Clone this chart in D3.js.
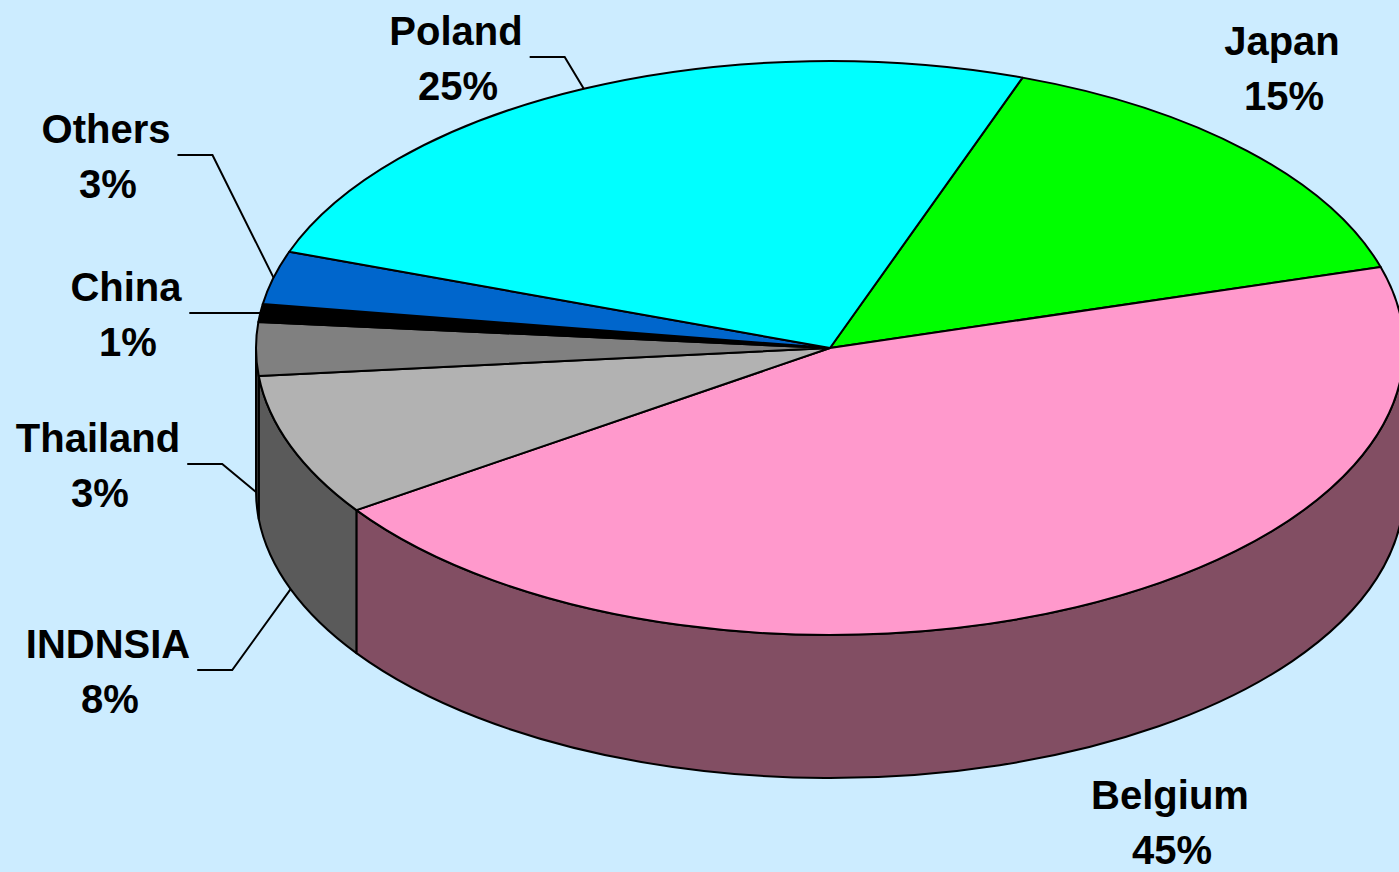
<!DOCTYPE html>
<html>
<head>
<meta charset="utf-8">
<script src="https://cdn.jsdelivr.net/npm/d3@7"></script>
<style>
  html, body { margin: 0; padding: 0; background: #CCECFF; overflow: hidden; }
  svg { display: block; }
  .lbl { font-family: "Liberation Sans", Arial, sans-serif; font-weight: bold; font-size: 40px; fill: #000; }
</style>
</head>
<body>
<svg id="chart" width="1399" height="872"></svg>
<script>
// DATA (clockwise from the first slice)
var countries = ["Japan", "Belgium", "INDNSIA", "Thailand", "China", "Others", "Poland"];
var shares = [15, 45, 8, 3, 1, 3, 25];
var topColors = ["#00FF00", "#FF99CC", "#B2B2B2", "#808080", "#000000", "#0066CC", "#00FFFF"];
var sideColors = ["#009900", "#824E63", "#5A5A5A", "#404040", "#000000", "#003D7A", "#009999"];

// label placement (center of the two-line label block)
var labelPos = {
  "Japan":    {x: 1282, y: 67,  leader: false},
  "Belgium":  {x: 1170, y: 821, leader: false},
  "INDNSIA":  {x: 108,  y: 670, leader: true},
  "Thailand": {x: 98,   y: 464, leader: true},
  "China":    {x: 126,  y: 313, leader: true},
  "Others":   {x: 106,  y: 155, leader: true},
  "Poland":   {x: 456,  y: 57,  leader: true}
};

var cx = 830, cy = 348, rx = 574, ry = 287, depth = 143;
var deg = Math.PI / 180;
var rotation = 19.6;

var svg = d3.select("#chart");
svg.append("rect").attr("width", 1399).attr("height", 872).attr("fill", "#CCECFF");

var topColor = d3.scaleOrdinal().domain(countries).range(topColors);
var sideColor = d3.scaleOrdinal().domain(countries).range(sideColors);

var pie = d3.pie()
  .value(function(d, i) { return shares[i]; })
  .sort(null)
  .startAngle(rotation * deg)
  .endAngle((rotation + 360) * deg);

var arcs = pie(countries);

// point on the (projected) rim, angle clockwise from 12 o'clock
function pt(a, dy) {
  return [cx + rx * Math.sin(a), cy - ry * Math.cos(a) + (dy || 0)];
}

function topPath(d) {
  var p0 = pt(d.startAngle), p1 = pt(d.endAngle);
  var large = (d.endAngle - d.startAngle) > Math.PI ? 1 : 0;
  return "M" + cx + "," + cy + "L" + p0 + "A" + rx + "," + ry + " 0 " + large + " 1 " + p1 + "Z";
}

// outer wall, only the part facing the viewer (90..270 deg)
function sidePath(d) {
  if (d.startAngle >= 2 * Math.PI) return null;
  var a0 = Math.max(d.startAngle, 90 * deg);
  var a1 = Math.min(d.endAngle, 270 * deg);
  if (a1 <= a0) return null;
  var t0 = pt(a0), t1 = pt(a1), b0 = pt(a0, depth), b1 = pt(a1, depth);
  return "M" + t0 + "A" + rx + "," + ry + " 0 0 1 " + t1 +
         "L" + b1 + "A" + rx + "," + ry + " 0 0 0 " + b0 + "Z";
}

svg.append("g").selectAll("path")
  .data(arcs.filter(function(d) { return sidePath(d) !== null; }))
  .enter().append("path")
  .attr("d", sidePath)
  .attr("fill", function(d) { return sideColor(d.data); })
  .attr("stroke", "#000")
  .attr("stroke-width", 2)
  .attr("stroke-linejoin", "round");

svg.append("g").selectAll("path")
  .data(arcs)
  .enter().append("path")
  .attr("d", topPath)
  .attr("fill", function(d) { return topColor(d.data); })
  .attr("stroke", "#000")
  .attr("stroke-width", 2)
  .attr("stroke-linejoin", "round");

// labels + leader lines
var labels = svg.append("g");
arcs.forEach(function(d, i) {
  var lp = labelPos[d.data];
  var name = labels.append("text").attr("class", "lbl")
    .attr("x", lp.x).attr("y", lp.y - 12)
    .attr("text-anchor", "middle")
    .text(d.data);
  labels.append("text").attr("class", "lbl")
    .attr("x", lp.x + 2).attr("y", lp.y + 43)
    .attr("text-anchor", "middle")
    .text(shares[i] + "%");

  if (lp.leader) {
    var bb = name.node().getBBox();
    var mid = (d.startAngle + d.endAngle) / 2;
    // front slices point at the lower rim, back slices at the top rim
    var target = pt(mid, Math.cos(mid) < 0 ? depth : 0);
    var x0 = bb.x + bb.width + 7;
    labels.append("path")
      .attr("d", "M" + x0 + "," + lp.y + "L" + (x0 + 35) + "," + lp.y + "L" + target)
      .attr("fill", "none")
      .attr("stroke", "#000")
      .attr("stroke-width", 2);
  }
});
</script>
</body>
</html>
